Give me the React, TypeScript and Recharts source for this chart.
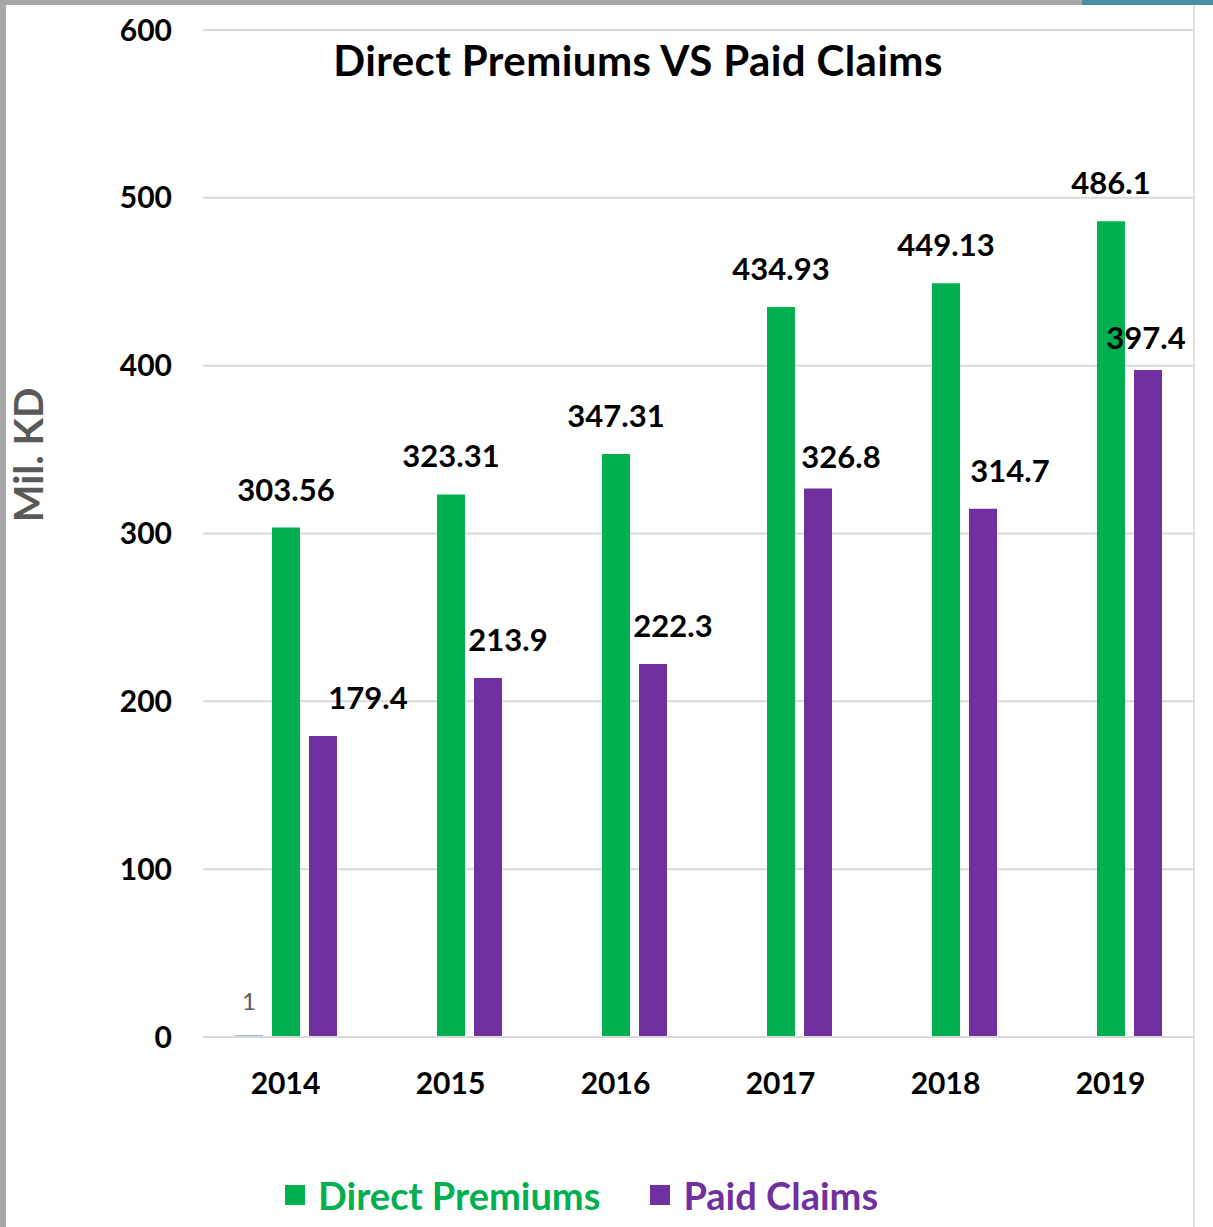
import { BarChart, Bar, XAxis, YAxis, CartesianGrid, LabelList } from 'recharts';

const years = ['2014', '2015', '2016', '2017', '2018', '2019'];
const directPremiums = [303.56, 323.31, 347.31, 434.93, 449.13, 486.1];
const paidClaims = [179.4, 213.9, 222.3, 326.8, 314.7, 397.4];
const stray = [1, null, null, null, null, null];
const yTicks = [0, 100, 200, 300, 400, 500, 600];

// label nudges for the paid claims values, as placed in the original
const claimLabelDx = [45, 20, 20, 23, 27, -2];

const data = years.map((year, i) => ({
  year,
  stray: stray[i],
  premiums: directPremiums[i],
  claims: paidClaims[i],
}));

const GREEN = '#00b050';
const PURPLE = '#7030a0';
const BLUE = '#5b9bd5';
const FONT = 'Lato, "Open Sans", sans-serif';

interface LabelProps {
  x?: number;
  y?: number;
  width?: number;
  value?: number | string;
  index?: number;
}

function TopLabel({ x = 0, y = 0, width = 0, value }: LabelProps) {
  return (
    <text x={x + width / 2} y={y - 27} textAnchor="middle" fontSize={31} fontWeight={700} fill="#000" fontFamily={FONT}>
      {value}
    </text>
  );
}

function ClaimLabel({ x = 0, y = 0, width = 0, value, index = 0 }: LabelProps) {
  const dy = index === 3 || index === 5 ? -21 : -27;
  return (
    <text x={x + width / 2 + claimLabelDx[index]} y={y + dy} textAnchor="middle" fontSize={31} fontWeight={700} fill="#000" fontFamily={FONT}>
      {value}
    </text>
  );
}

function StrayLabel({ x = 0, y = 0, width = 0, value }: LabelProps) {
  if (value == null) return null;
  return (
    <text x={x + width / 2} y={y - 25} textAnchor="middle" fontSize={24} fill="#595959" fontFamily={FONT}>
      {value}
    </text>
  );
}

const legendItems = [
  { name: 'Direct Premiums', color: GREEN },
  { name: 'Paid Claims', color: PURPLE },
];

export default function App() {
  return (
    <div style={{ position: 'absolute', left: 0, top: 0, width: 1213, height: 1227, background: '#fff', overflow: 'hidden' }}>
      <div style={{ position: 'absolute', left: 0, top: 0, width: 1213, height: 5, background: '#a8a8a8' }} />
      <div style={{ position: 'absolute', left: 1082, top: 0, width: 131, height: 5, background: '#4a8fa8' }} />
      <div style={{ position: 'absolute', left: 0, top: 0, width: 6, height: 1227, background: '#a8a8a8' }} />
      <div style={{ position: 'absolute', left: 1193, top: 5, width: 2, height: 1222, background: '#e2e2e2' }} />
      <BarChart
        width={1213}
        height={1227}
        data={data}
        margin={{ top: 30, right: 20, bottom: 90, left: 3 }}
        barCategoryGap={32}
        barGap={9}
        barSize={28}
        style={{ position: 'absolute', left: 0, top: 0 }}
      >
        <CartesianGrid vertical={false} stroke="#d9d9d9" strokeWidth={2} />
        <XAxis
          dataKey="year"
          height={100}
          axisLine={{ stroke: '#d9d9d9', strokeWidth: 2 }}
          tickLine={false}
          tickMargin={30}
          tick={{ fontSize: 30, fontWeight: 700, fill: '#000', fontFamily: FONT }}
        />
        <YAxis
          width={200}
          domain={[0, 600]}
          ticks={yTicks}
          axisLine={false}
          tickLine={false}
          tickMargin={25}
          tick={{ fontSize: 30, fontWeight: 700, fill: '#000', fontFamily: FONT }}
        />
        <Bar dataKey="stray" fill={BLUE} isAnimationActive={false} legendType="none">
          <LabelList dataKey="stray" content={<StrayLabel />} />
        </Bar>
        <Bar dataKey="premiums" name="Direct Premiums" fill={GREEN} isAnimationActive={false}>
          <LabelList dataKey="premiums" content={<TopLabel />} />
        </Bar>
        <Bar dataKey="claims" name="Paid Claims" fill={PURPLE} isAnimationActive={false}>
          <LabelList dataKey="claims" content={<ClaimLabel />} />
        </Bar>
      </BarChart>
      <div
        style={{
          position: 'absolute',
          left: 333,
          top: 33,
          width: 610,
          textAlign: 'center',
          fontFamily: FONT,
          fontWeight: 700,
          fontSize: 42,
          letterSpacing: 0.4,
          color: '#000',
          whiteSpace: 'nowrap',
          lineHeight: '54px',
        }}
      >
        Direct Premiums VS Paid Claims
      </div>
      <div
        style={{
          position: 'absolute',
          left: 28,
          top: 455,
          transform: 'translate(-50%, -50%) rotate(-90deg)',
          fontFamily: FONT,
          fontWeight: 700,
          fontSize: 40,
          color: '#595959',
          whiteSpace: 'nowrap',
        }}
      >
        Mil. KD
      </div>
      <div style={{ position: 'absolute', left: 285, top: 1170, display: 'flex', fontFamily: FONT, lineHeight: '50px' }}>
        {legendItems.map((it, i) => (
          <div key={it.name} style={{ display: 'flex', alignItems: 'center', marginLeft: i ? 50 : 0 }}>
            <span style={{ width: 20, height: 20, background: it.color, marginRight: 13 }} />
            <span style={{ color: it.color, fontSize: 38, fontWeight: 700 }}>{it.name}</span>
          </div>
        ))}
      </div>
    </div>
  );
}
